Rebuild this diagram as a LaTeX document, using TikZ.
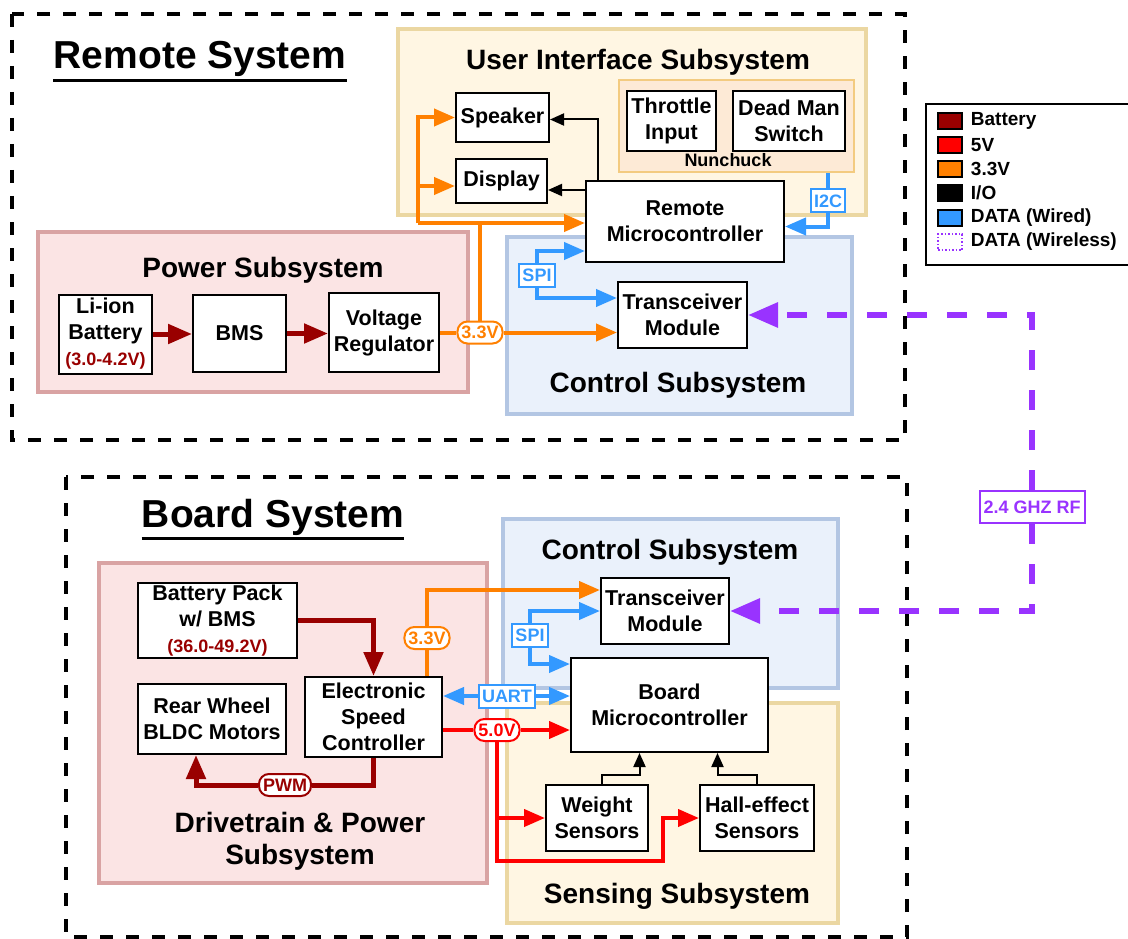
\documentclass[tikz,border=0pt]{standalone}
\usepackage{fontspec}
\setmainfont{Liberation Sans}
\usetikzlibrary{arrows.meta,positioning}

\definecolor{battred}{HTML}{990000}
\definecolor{vred}{HTML}{FF0000}
\definecolor{vorange}{HTML}{FF8000}
\definecolor{datablue}{HTML}{3399FF}
\definecolor{rfpurple}{HTML}{9933FF}
\definecolor{pwrfill}{HTML}{FBE4E4}
\definecolor{pwrline}{HTML}{D9A3A3}
\definecolor{uifill}{HTML}{FFF6E3}
\definecolor{uiline}{HTML}{EBD7A2}
\definecolor{ctlfill}{HTML}{EAF1FB}
\definecolor{ctlline}{HTML}{B3C6E3}
\definecolor{nunfill}{HTML}{FDEAD6}
\definecolor{nunline}{HTML}{F3CB80}

\newcommand\sysfont{\fontsize{39}{44}\selectfont\bfseries}
\newcommand\grpfont{\fontsize{28}{32}\selectfont\bfseries}
\newcommand\blkfont{\fontsize{21.5}{26}\selectfont\bfseries}
\newcommand\tagfont{\fontsize{18}{20}\selectfont\bfseries}
\newcommand\keyfont{\fontsize{19}{21}\selectfont\bfseries}

\tikzset{
  blk/.style={draw, line width=2pt, fill=white, align=center, font=\blkfont, inner sep=0pt},
  grp/.style={line width=4pt, inner sep=0pt},
  pwrgrp/.style={grp, draw=pwrline, fill=pwrfill},
  uigrp/.style={grp, draw=uiline, fill=uifill},
  ctlgrp/.style={grp, draw=ctlline, fill=ctlfill},
  nungrp/.style={grp, line width=2.5pt, draw=nunline, fill=nunfill},
  grptitle/.style={font=\grpfont, anchor=base, inner sep=0pt},
  systitle/.style={font=\sysfont, anchor=base, inner sep=0pt},
  sysframe/.style={line width=4pt, dash pattern=on 13pt off 13pt},
  batt/.style={line width=5pt, draw=battred, >={Triangle[length=24pt,width=19pt]}},
  v5/.style={line width=4pt, draw=vred, >={Triangle[length=21pt,width=17pt]}},
  v33/.style={line width=4pt, draw=vorange, >={Triangle[length=21pt,width=17pt]}},
  io/.style={line width=2pt, draw=black, >={Triangle[length=14pt,width=12pt]}},
  data/.style={line width=4pt, draw=datablue, >={Triangle[length=21pt,width=17pt]}},
  wless/.style={line width=6pt, draw=rfpurple, dash pattern=on 20pt off 20pt, >={Triangle[length=30pt,width=24pt]}},
  pill/.style={draw, fill=white, line width=2pt, rounded corners=10pt, font=\tagfont, inner xsep=4pt, inner ysep=0pt, minimum height=22pt},
  tag/.style={draw=datablue, text=datablue, fill=white, line width=2pt, font=\tagfont, inner xsep=3pt, inner ysep=0pt, minimum height=23pt},
  key/.style={draw, line width=1.5pt, minimum width=24pt, minimum height=16pt, inner sep=0pt},
  keytxt/.style={font=\keyfont, inner sep=0pt}
}

\begin{document}
\begin{tikzpicture}[x=1pt,y=-1pt]
	\useasboundingbox (0,0) rectangle (1128,939);

	% system frames
	\draw[sysframe] (12,14) rectangle (905,440);
	\draw[sysframe] (66,477) rectangle (907,937);
	\node[systitle] (remsys) at (200,69) {Remote System};
	\node[systitle] (brdsys) at (273,527) {Board System};
	\draw[line width=2.5pt] ([yshift=-3pt]remsys.south west) -- ([yshift=-3pt]remsys.south east);
	\draw[line width=2.5pt] ([yshift=-3pt]brdsys.south west) -- ([yshift=-3pt]brdsys.south east);

	% remote subsystems
	\node[uigrp, minimum width=468, minimum height=186] (uisub) at (632,122) {};
	\node[nungrp, minimum width=235, minimum height=92] (nun) at (736.5,126) {};
	\node[pwrgrp, minimum width=430, minimum height=160] (pwrsub) at (253,312) {};
	\node[ctlgrp, minimum width=345, minimum height=177] (rctlsub) at (679.5,325.5) {};
	\node[grptitle] at (638,70) {User Interface Subsystem};
	\node[grptitle] at (263,277) {Power Subsystem};
	\node[grptitle] at (678,392) {Control Subsystem};
	\node[font=\tagfont, anchor=base, inner sep=0pt] (nunlbl) at (728,167) {Nunchuck};

	% remote blocks
	\node[blk, minimum width=89, minimum height=60] (thr) at (671.5,121) {Throttle\\Input};
	\node[blk, minimum width=112, minimum height=60] (dms) at (789,121) {Dead Man\\Switch};
	\node[blk, minimum width=93, minimum height=49] (spk) at (502.5,117.5) {Speaker};
	\node[blk, minimum width=91, minimum height=44] (dsp) at (501.5,181) {Display};
	\node[blk, minimum width=198, minimum height=81] (rmcu) at (685,221.5) {Remote\\Microcontroller};
	\node[blk, minimum width=129, minimum height=66] (rtx) at (682.5,315) {Transceiver\\Module};
	\node[blk, minimum width=93, minimum height=79] (lion) at (105.5,334) {Li-ion\\Battery\\{\tagfont\textcolor{battred}{(3.0-4.2V)}}};
	\node[blk, minimum width=93, minimum height=77] (bms) at (239.5,333.5) {BMS};
	\node[blk, minimum width=110, minimum height=79] (reg) at (384,332.5) {Voltage\\Regulator};

	% board subsystems
	\node[pwrgrp, minimum width=388, minimum height=320] (drvsub) at (293,723) {};
	\node[ctlgrp, minimum width=335, minimum height=169] (bctlsub) at (670.5,603.5) {};
	\node[uigrp, minimum width=331, minimum height=220] (senssub) at (672.5,813) {};
	\node[grptitle] at (670,559) {Control Subsystem};
	\node[grptitle] at (677,903) {Sensing Subsystem};
	\node[font=\grpfont, align=center, inner sep=0pt] at (300,841) {Drivetrain \& Power\\Subsystem};

	% board blocks
	\node[blk, minimum width=159, minimum height=75] (bpk) at (217.5,620.5) {Battery Pack\\w/ BMS\\{\tagfont\textcolor{battred}{(36.0-49.2V)}}};
	\node[blk, minimum width=148, minimum height=70] (mot) at (212,719) {Rear Wheel\\BLDC Motors};
	\node[blk, minimum width=137, minimum height=80] (esc) at (373.5,717) {Electronic\\Speed\\Controller};
	\node[blk, minimum width=128, minimum height=66] (btx) at (665,611) {Transceiver\\Module};
	\node[blk, minimum width=197, minimum height=94] (bmcu) at (669.5,705) {Board\\Microcontroller};
	\node[blk, minimum width=102, minimum height=66] (wgt) at (597,818) {Weight\\Sensors};
	\node[blk, minimum width=114, minimum height=66] (hal) at (757,818) {Hall-effect\\Sensors};

	% labels on the lines
	\node[pill, draw=vorange, text=vorange] (p33r) at (480,332.5) {3.3V};
	\node[pill, draw=vorange, text=vorange] (p33b) at (427,638) {3.3V};
	\node[pill, draw=vred, text=vred] (p5) at (497,730) {5.0V};
	\node[pill, draw=battred, text=battred] (pwm) at (285,785) {PWM};
	\node[tag] (spir) at (537,275) {SPI};
	\node[tag] (spib) at (530,635) {SPI};
	\node[tag] (i2c) at (828,201) {I2C};
	\node[tag] (uart) at (507,696) {UART};
	\node[tag, draw=rfpurple, text=rfpurple, inner xsep=4pt, minimum height=32pt] (rf) at (1032,507) {2.4 GHZ RF};
	\coordinate (tap) at (418,223);
	\coordinate (sens5) at (663,861);

	% remote connectors
	\draw[batt,->] (lion.east) -- (lion.east -| bms.west);
	\draw[batt,->] (bms.east) -- (bms.east -| reg.west);
	\draw[v33] (reg.east |- p33r) -- (p33r);
	\draw[v33,->] (p33r) -- (p33r -| rtx.west);
	\draw[v33] (p33r) |- (tap);
	\draw[v33,->] (tap) -- (tap -| rmcu.west);
	\draw[v33,->] (tap) |- (spk);
	\draw[v33,->] (tap) |- ([yshift=-5pt]dsp.west);
	\draw[io,->] ([xshift=13pt]rmcu.north west) |- ([yshift=-2pt]spk.east);
	\draw[io,->] ([yshift=-10pt]rmcu.north west) -- ([yshift=-10pt]rmcu.north west -| dsp.east);
	\draw[data] (i2c |- nun.south) -- (i2c);
	\draw[data,->] (i2c) |- ([yshift=-5pt]rmcu.east);
	\draw[data,->] (spir) |- ([yshift=12pt]rmcu.south west);
	\draw[data,->] (spir) |- ([yshift=-17pt]rtx.north west);

	% board connectors
	\draw[batt,->] (bpk) -| (esc);
	\draw[batt] (esc) |- (pwm);
	\draw[batt,->] (pwm) -| ([xshift=-16pt]mot.south);
	\draw[v33] (p33b |- esc.north) -- (p33b);
	\draw[v33,->] (p33b) |- ([yshift=-13pt]btx.north west);
	\draw[data,->] (spib) |- (btx);
	\draw[data,->] (spib) |- ([yshift=-7pt]bmcu.north west);
	\draw[data,<-] (esc.east |- uart) -- (uart);
	\draw[data,->] (uart) -- (uart -| bmcu.west);
	\draw[v5] (esc.east |- p5) -- (p5);
	\draw[v5,->] (p5) -- (p5 -| bmcu.west);
	\draw[v5,->] (p5) |- (wgt);
	\draw[v5,->] (p5) |- (sens5) |- (hal);
	\draw[io,->] ([xshift=5pt]wgt.north) -- ++(0,-9) -| ([xshift=-30pt]bmcu.south);
	\draw[io,->] (hal.north) -- ++(0,-9) -| ([xshift=48pt]bmcu.south);

	% wireless link
	\draw[wless,->] (rf) |- (rtx);
	\draw[wless,->] (rf) |- (btx);

	% legend
	\node[draw, line width=2pt, minimum width=220, minimum height=161, inner sep=0pt] (legend) at (1036,184.5) {};
	\node[key, fill=battred] (kbatt) at (950,121) {};
	\node[key, fill=vred] (k5) at (950,145) {};
	\node[key, fill=vorange] (k33) at (950,169) {};
	\node[key, fill=black] (kio) at (950,193) {};
	\node[key, fill=datablue] (kdata) at (950,218) {};
	\node[key, draw=rfpurple, dotted, fill=white] (kwl) at (950,242) {};
	\node[keytxt, right=8pt of kbatt] {Battery};
	\node[keytxt, right=8pt of k5] {5V};
	\node[keytxt, right=8pt of k33] {3.3V};
	\node[keytxt, right=8pt of kio] {I/O};
	\node[keytxt, right=8pt of kdata] {DATA (Wired)};
	\node[keytxt, right=8pt of kwl] {DATA (Wireless)};
\end{tikzpicture}
\end{document}
